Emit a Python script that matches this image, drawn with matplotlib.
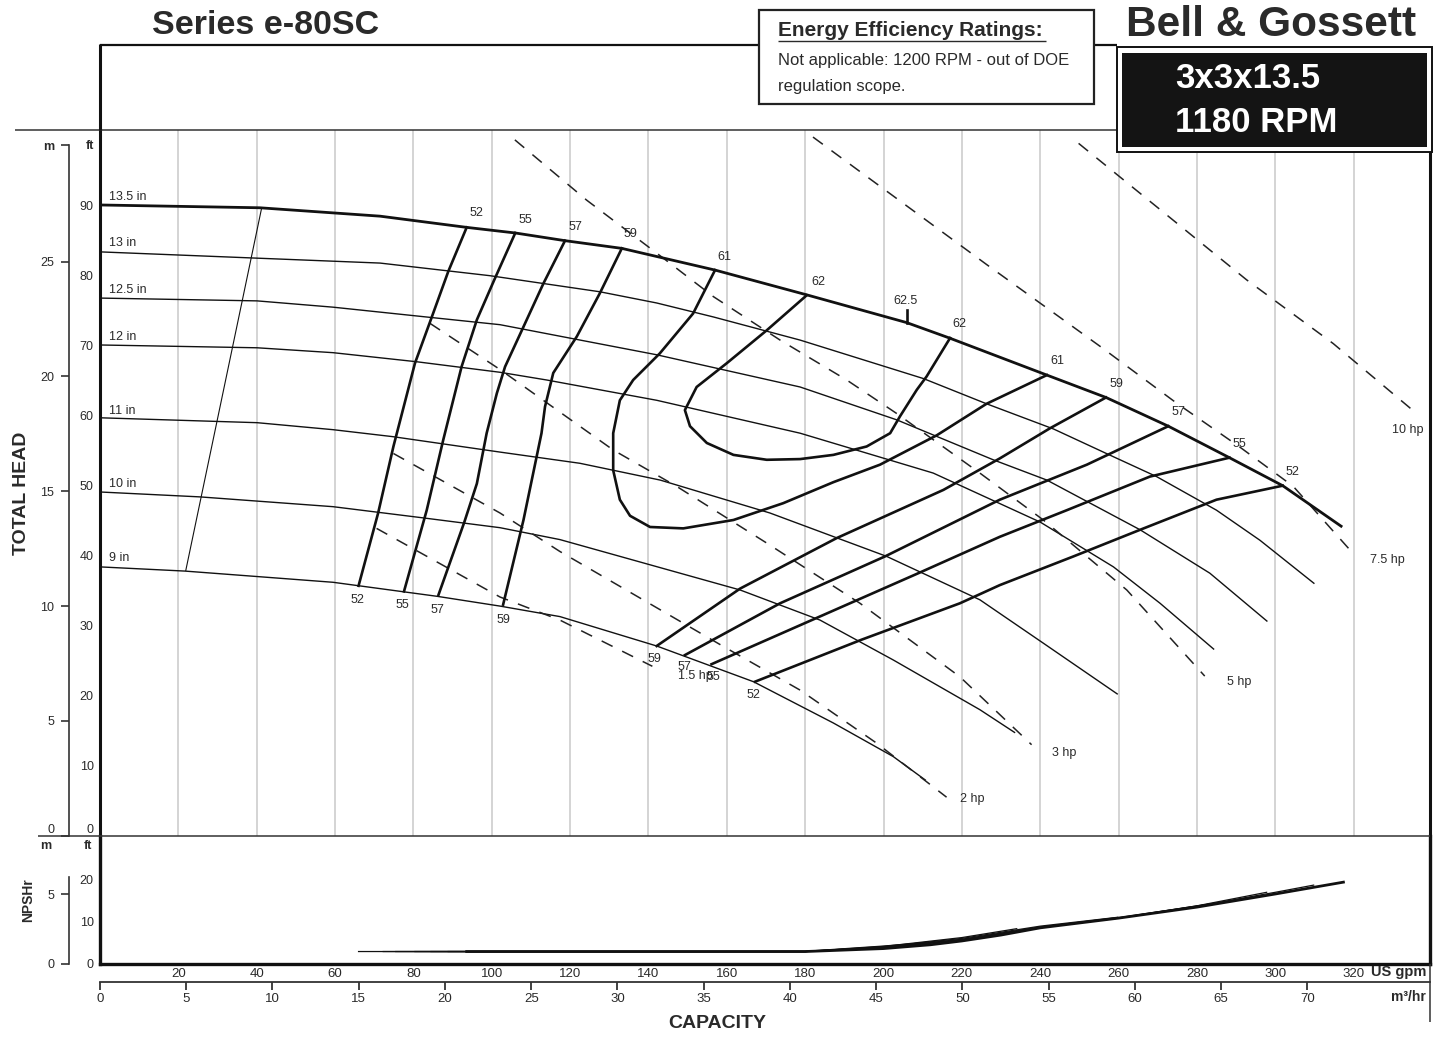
import numpy as np
import matplotlib.pyplot as plt
from matplotlib.lines import Line2D
from matplotlib.patches import Rectangle

plt.rcParams['font.family'] = ['Liberation Sans', 'DejaVu Sans']

# impeller curves: capacity (US gpm) / total head (ft)
q_135 = [0, 40.8, 71.5, 93.6, 106, 118.7, 133.2, 157, 180.8, 205.9, 216.8, 241.7, 256.8, 272.7, 288.3, 301.9, 317.1]
h_135 = [90.1, 89.7, 88.5, 86.9, 86.1, 85.0, 83.9, 80.8, 77.2, 73.3, 71.1, 65.8, 62.6, 58.5, 54.0, 50.0, 44.1]
q_13 = [0, 71.5, 99.5, 127.6, 142.1, 156.6, 178.7, 210.2, 226.3, 243.4, 256.5, 269.7, 285.0, 296.1, 310]
h_13 = [83.4, 81.8, 80.0, 77.7, 76.1, 74.1, 70.8, 65.3, 61.7, 58.1, 54.7, 51.3, 46.5, 42.2, 36.0]
q_125 = [0, 40.1, 59.5, 85, 102.1, 142.1, 178.7, 203.4, 228, 241.7, 265.5, 283.3, 298]
h_125 = [76.8, 76.4, 75.5, 74.0, 73.0, 68.7, 64.1, 59.4, 53.7, 50.8, 43.7, 37.5, 30.6]
q_12 = [0, 40.1, 59.5, 80.9, 102.1, 114, 142.1, 178.7, 212.7, 240, 258.7, 270.6, 284.4]
h_12 = [70.1, 69.7, 69.0, 67.7, 66.2, 65.1, 62.2, 57.5, 51.8, 44.8, 38.4, 33.2, 26.6]
q_11 = [0, 40.1, 59.5, 74.8, 102.1, 122.5, 143, 171, 200.8, 224.6, 240.8, 259.8]
h_11 = [59.7, 59.0, 58.0, 57.0, 54.8, 53.2, 50.8, 46.1, 39.9, 33.7, 27.5, 20.2]
q_10 = [0, 25.5, 59.5, 82.5, 102.1, 117.4, 163.4, 183.8, 202.5, 224.6, 233.6]
h_10 = [49.1, 48.4, 47.0, 45.4, 44.0, 42.3, 35.1, 30.8, 25.1, 18.0, 14.7]
q_9 = [0, 21.7, 59.5, 86, 102.1, 117.4, 142.1, 166.8, 187.2, 202.5, 210.8]
h_9 = [38.4, 37.8, 36.2, 34.2, 32.8, 31.3, 27.1, 22.0, 16.1, 11.3, 7.9]
imp_names = ['13.5 in', '13 in', '12.5 in', '12 in', '11 in', '10 in', '9 in']
imp_label_h = [91.2, 84.7, 78.0, 71.2, 60.7, 50.2, 39.7]

# minimum flow line
minflow_q = [41.2, 21.9]
minflow_h = [89.5, 37.9]

# efficiency curves (%)
e52l_q = [93.6, 88.9, 84.7, 80.4, 74.9, 71.0, 66.0]
e52l_h = [86.9, 80.6, 74.1, 67.5, 55.6, 46.1, 35.7]
e55l_q = [106, 100.8, 96.2, 92.3, 87.6, 83.4, 77.6]
e55l_h = [86.1, 79.6, 73.7, 67.0, 56.5, 46.5, 34.9]
e57l_q = [118.7, 113.2, 108.1, 103.4, 101.3, 98.7, 96.2, 93.0, 86.4]
e57l_h = [85.0, 78.9, 72.7, 67.0, 63.2, 57.5, 50.3, 44.8, 34.4]
e59l_q = [133.2, 127.6, 121.7, 115.7, 113.6, 112.7, 108.1, 102.9]
e59l_h = [83.9, 77.5, 71.3, 66.1, 61.3, 57.5, 45.1, 33.0]
e61_q = [157, 151.4, 142.9, 136.1, 132.7, 131.0, 131.0, 132.7, 135.3, 140.4, 148.9, 161.7,
         174.4, 187.2, 199.1, 213.6, 226.3, 241.7]
e61_h = [80.8, 74.6, 68.9, 65.1, 62.2, 57.5, 52.2, 48.0, 45.7, 44.1, 43.9, 45.1,
         47.5, 50.5, 53.0, 57.2, 61.7, 65.8]
e62_q = [180.4, 170.2, 160, 152.3, 149.3, 150.6, 154.9, 161.7, 170.2, 178.7, 187.2, 195.7,
         201.7, 204.2, 208.5, 211, 217]
e62_h = [77.2, 72.2, 67.5, 64.1, 60.8, 58.5, 56.1, 54.4, 53.7, 53.8, 54.4, 55.6,
         57.5, 59.9, 63.7, 65.6, 71.1]
e59r_q = [142.1, 163.4, 188, 215.3, 229.7, 242.5, 256.8]
e59r_h = [27.1, 35.3, 42.5, 49.4, 53.9, 58.2, 62.6]
e57r_q = [149.3, 173.6, 200.4, 229.7, 251.9, 272.7]
e57r_h = [25.8, 33.2, 39.9, 48.0, 53.0, 58.5]
e55r_q = [156.1, 182.9, 208.9, 229.7, 246.8, 268, 288.3]
e55r_h = [24.5, 31.1, 37.5, 42.7, 46.5, 51.3, 54.0]
e52r_q = [167.2, 194.4, 219.5, 229.7, 248.5, 265.5, 285, 301.9]
e52r_h = [22.0, 28.0, 33.2, 35.8, 39.9, 43.7, 48.0, 50.0]
bep_q = [205.9, 205.9]
bep_h = [73.3, 75.1]

top_eff_txt = ['52', '55', '57', '59', '61', '62', '62.5', '62', '61', '59', '57', '55', '52']
top_eff_q = [96.2, 108.5, 121.3, 135.5, 159.3, 183.4, 205.7, 219.3, 244.4, 259.5, 275.3, 290.8, 304.5]
top_eff_h = [88.9, 87.9, 86.9, 85.9, 82.7, 79.1, 76.4, 73.1, 67.8, 64.5, 60.5, 55.9, 52.0]
low_eff_txt = ['52', '55', '57', '59', '59', '57', '55', '52']
low_eff_q = [65.8, 77.2, 86.1, 102.9, 141.5, 149.1, 156.6, 166.8]
low_eff_h = [33.7, 33.0, 32.3, 30.8, 25.2, 24.1, 22.6, 20.1]

# power lines (hp)
hp15_q = [70.6, 102.1, 117.4, 141.0]
hp15_h = [43.9, 34.1, 30.8, 24.2]
hp2_q = [74.9, 102.1, 117.4, 158.3, 178.7, 198.3, 216.1]
hp2_h = [54.6, 46.1, 40.6, 27.3, 20.8, 13.2, 5.5]
hp3_q = [84.2, 102.1, 131, 147.2, 170.2, 194, 219.5, 237.8]
hp3_h = [73.2, 66.6, 55.1, 49.9, 41.8, 33.2, 22.7, 13.0]
hp5_q = [105.9, 124.2, 143.8, 156.6, 173.6, 190.6, 203.4, 224.6, 240.8, 262.1, 282.0]
hp5_h = [99.4, 90.8, 82.5, 77.0, 70.8, 65.1, 60.3, 51.8, 45.1, 35.1, 22.8]
hp75_q = [182.0, 226.3, 255.3, 274.8, 291.0, 304.6, 319.1]
hp75_h = [99.8, 81.6, 69.9, 61.8, 55.5, 49.9, 40.8]
hp10_q = [249.8, 292.7, 314.8, 336.1]
hp10_h = [98.9, 79.4, 70.3, 60.3]
hp_txt = ['1.5 hp', '2 hp', '3 hp', '5 hp', '7.5 hp', '10 hp']
hp_txt_q = [147.6, 219.5, 242.9, 287.6, 324.2, 329.7]
hp_txt_h = [22.8, 5.3, 11.8, 22.0, 39.4, 58.0]

# NPSHr (ft) per impeller
npsh_q_9 = [66.0, 150, 180, 200, 210.8]
npsh_h_9 = [2.9, 2.9, 2.95, 4.2, 5.0]
npsh_q_10 = [72.3, 180, 200, 220, 234]
npsh_h_10 = [2.9, 2.9, 4.1, 6.2, 8.3]
npsh_q_11 = [75.5, 180, 200, 220, 240, 259.8]
npsh_h_11 = [2.9, 2.9, 4.0, 6.0, 8.9, 11.0]
npsh_q_12 = [80.4, 180, 200, 220, 240, 260, 284.4]
npsh_h_12 = [2.9, 2.9, 3.9, 5.8, 8.7, 10.9, 14.3]
npsh_q_125 = [84.5, 180, 200, 220, 240, 260, 280, 297.8]
npsh_h_125 = [2.9, 2.9, 3.8, 5.7, 8.6, 10.8, 13.7, 16.9]
npsh_q_13 = [88.9, 180, 200, 220, 240, 260, 280, 300, 309.8]
npsh_h_13 = [2.9, 2.9, 3.7, 5.6, 8.6, 10.8, 13.6, 16.9, 18.6]
npsh_q_135 = [93.6, 180, 200, 212, 220, 230, 240, 260, 280, 300, 317.4]
npsh_h_135 = [2.9, 2.9, 3.6, 4.5, 5.4, 6.8, 8.5, 10.8, 13.4, 16.5, 19.3]

gpm_ticks = list(range(20, 340, 20))
ft_grid = list(range(10, 100, 10))
m3h_ticks = list(range(0, 75, 5))

FT_PER_M = 3.28084
M3H_PER_GPM = 0.22712

W, H = 1441, 1038
def fx(x):
    return x / W
def fy(y):
    return 1 - y / H

ink = '#111111'
txt = '#2a2a2a'
gridc = '#cdcdcd'

fig = plt.figure(figsize=(14.41, 10.38), dpi=100)
ax = fig.add_axes([fx(100), fy(835.7), fx(1430) - fx(100), fy(130) - fy(835.7)])
axn = fig.add_axes([fx(100), fy(963.8), fx(1430) - fx(100), fy(835.7) - fy(963.8)])

# ---- head panel
ax.set_xlim(0, 339.5)
ax.set_ylim(0, 100.81)
ax.set_xticks(gpm_ticks, minor=True)
ax.set_yticks(ft_grid, minor=True)
ax.grid(which='minor', color=gridc, lw=1.2, zorder=0)
ax.set_xticks([])
ax.set_yticks(ft_grid + [0, 98.67])
ax.set_yticklabels([str(v) for v in ft_grid] + ['0', 'ft'])
ax.tick_params(axis='both', which='both', length=0)
ax.tick_params(axis='y', pad=4.5, labelsize=9, labelcolor=txt)
for lab in ax.get_yticklabels():
    if lab.get_text() == '0':
        lab.set_va('bottom')
    if lab.get_text() == 'ft':
        lab.set_fontweight('bold')
for s in ['top', 'bottom']:
    ax.spines[s].set_visible(False)
for s in ['left', 'right']:
    ax.spines[s].set_linewidth(2.2)
    ax.spines[s].set_color(ink)

secm = ax.secondary_yaxis(-0.0233, functions=(lambda f: f / FT_PER_M, lambda m: m * FT_PER_M))
secm.set_yticks([0, 5, 10, 15, 20, 25, 30.07])
secm.set_yticklabels(['0', '5', '10', '15', '20', '25', 'm'])
secm.tick_params(length=5.5, width=1.2, pad=5, labelsize=9, labelcolor=txt, color='#333333')
secm.spines['left'].set_bounds(0, 30.07)
secm.spines['left'].set_linewidth(1.2)
secm.spines['left'].set_color('#333333')
for lab in secm.get_yticklabels():
    if lab.get_text() == '0':
        lab.set_va('bottom')
    if lab.get_text() == 'm':
        lab.set_fontweight('bold')

imp_q = [q_135, q_13, q_125, q_12, q_11, q_10, q_9]
imp_h = [h_135, h_13, h_125, h_12, h_11, h_10, h_9]
for i, (q, h) in enumerate(zip(imp_q, imp_h)):
    ax.plot(q, h, color=ink, lw=2.0 if i == 0 else 1.0, zorder=3 if i == 0 else 2,
            solid_capstyle='butt')
    ax.text(2.3, imp_label_h[i], imp_names[i], fontsize=9, color=txt, ha='left', va='center')

ax.plot(minflow_q, minflow_h, color=ink, lw=0.8, zorder=2)

for q, h in [(hp15_q, hp15_h), (hp2_q, hp2_h), (hp3_q, hp3_h), (hp5_q, hp5_h),
             (hp75_q, hp75_h), (hp10_q, hp10_h)]:
    ax.plot(q, h, color='#222222', lw=1.1, dashes=(8, 7), zorder=2)
for t, q, h in zip(hp_txt, hp_txt_q, hp_txt_h):
    ax.text(q, h, t, fontsize=9, color=txt, ha='left', va='center')

for q, h in [(e52l_q, e52l_h), (e55l_q, e55l_h), (e57l_q, e57l_h), (e59l_q, e59l_h),
             (e61_q, e61_h), (e62_q, e62_h), (e59r_q, e59r_h), (e57r_q, e57r_h),
             (e55r_q, e55r_h), (e52r_q, e52r_h), (bep_q, bep_h)]:
    ax.plot(q, h, color=ink, lw=1.9, zorder=3)
for t, q, h in zip(top_eff_txt + low_eff_txt, top_eff_q + low_eff_q, top_eff_h + low_eff_h):
    ax.text(q, h, t, fontsize=9, color=txt, ha='center', va='center', zorder=4)

# ---- NPSH panel
axn.set_xlim(0, 339.5)
axn.set_ylim(0, 30.28)
axn.set_xticks(gpm_ticks, minor=True)
axn.set_yticks([10, 20], minor=True)
axn.grid(which='minor', color=gridc, lw=1.2, zorder=0)
axn.set_xticks(gpm_ticks)
axn.set_xticklabels([str(v) for v in gpm_ticks])
axn.set_yticks([0, 10, 20])
axn.set_yticklabels(['0', '10', '20'])
axn.tick_params(axis='both', which='both', length=0)
axn.tick_params(axis='x', pad=3, labelsize=9.5, labelcolor=txt)
axn.tick_params(axis='y', pad=4.5, labelsize=9, labelcolor=txt)
axn.spines['top'].set_visible(False)
for s in ['left', 'right', 'bottom']:
    axn.spines[s].set_linewidth(2.4)
    axn.spines[s].set_color(ink)

secn = axn.secondary_yaxis(-0.0233, functions=(lambda f: f / FT_PER_M, lambda m: m * FT_PER_M))
secn.set_yticks([0, 5])
secn.set_yticklabels(['0', '5'])
secn.tick_params(length=5.5, width=1.2, pad=5, labelsize=9, labelcolor=txt, color='#333333')
secn.spines['left'].set_bounds(0, 6.25)
secn.spines['left'].set_linewidth(1.2)
secn.spines['left'].set_color('#333333')
axn.text(-0.009, 27.8, 'ft', transform=axn.get_yaxis_transform(), fontsize=9, fontweight='bold',
         color=txt, ha='center', va='center')
axn.text(-0.0406, 27.8, 'm', transform=axn.get_yaxis_transform(), fontsize=9, fontweight='bold',
         color=txt, ha='center', va='center')

for q, h in [(npsh_q_9, npsh_h_9), (npsh_q_10, npsh_h_10), (npsh_q_11, npsh_h_11),
             (npsh_q_12, npsh_h_12), (npsh_q_125, npsh_h_125), (npsh_q_13, npsh_h_13)]:
    axn.plot(q, h, color=ink, lw=0.9, zorder=2)
axn.plot(npsh_q_135, npsh_h_135, color=ink, lw=2.0, zorder=3)

secx = axn.secondary_xaxis(-0.1405, functions=(lambda q: q * M3H_PER_GPM, lambda m: m / M3H_PER_GPM))
secx.set_xticks(m3h_ticks)
secx.set_xticklabels([str(v) for v in m3h_ticks])
secx.tick_params(direction='out', length=6, width=1.3, pad=2, labelsize=9.5, labelcolor=txt,
                 color='#333333')
secx.spines['bottom'].set_linewidth(1.3)
secx.spines['bottom'].set_color('#333333')

# ---- axis titles
fig.text(fx(22), fy(493), 'TOTAL HEAD', rotation=90, fontsize=14, fontweight='bold',
         color=txt, ha='center', va='center')
fig.text(fx(28), fy(900), 'NPSHr', rotation=90, fontsize=10, fontweight='bold',
         color=txt, ha='center', va='center')
fig.text(fx(717), fy(1023), 'CAPACITY', fontsize=14, fontweight='bold', color=txt,
         ha='center', va='center')
fig.text(fx(1426), fy(972), 'US gpm', fontsize=10.5, fontweight='bold', color=txt,
         ha='right', va='center')
fig.text(fx(1426), fy(997), 'm³/hr', fontsize=10, fontweight='bold', color=txt,
         ha='right', va='center')

# ---- frame lines outside the axes
def fline(x0, y0, x1, y1, lw, color='#333333', z=1):
    fig.add_artist(Line2D([fx(x0), fx(x1)], [fy(y0), fy(y1)], lw=lw, color=color, zorder=z,
                          solid_capstyle='butt'))

fline(15, 130, 1430, 130, 1.1)
fline(38, 835.7, 1430, 835.7, 1.1)
fline(100, 45, 1117, 45, 1.6, ink)
fline(100, 44, 100, 130, 2.2, ink)
fline(1430, 963.8, 1430, 1022, 1.1)

# ---- header
fig.text(fx(152), fy(25), 'Series e-80SC', fontsize=24.5, fontweight='bold', color=txt,
         ha='left', va='center')
fig.text(fx(1126), fy(25), 'Bell & Gossett', fontsize=30.5, fontweight='bold', color=txt,
         ha='left', va='center')

fig.add_artist(Rectangle((fx(759), fy(104)), fx(1094) - fx(759), fy(10) - fy(104),
                         facecolor='white', edgecolor='#222222', lw=1.6, zorder=5))
fig.text(fx(778), fy(30), 'Energy Efficiency Ratings:', fontsize=15,
         fontweight='bold', color=txt, ha='left', va='center', zorder=6)
fline(778, 41, 1046, 41, 1.0, txt, 6)
fig.text(fx(778), fy(60), 'Not applicable: 1200 RPM - out of DOE',
         fontsize=12, color=txt, ha='left', va='center', zorder=6)
fig.text(fx(778), fy(86), 'regulation scope.', fontsize=12, color=txt,
         ha='left', va='center', zorder=6)

fig.add_artist(Rectangle((fx(1117), fy(152)), fx(1432) - fx(1117), fy(47) - fy(152),
                         facecolor='white', edgecolor=ink, lw=1.4, zorder=5))
fig.add_artist(Rectangle((fx(1122), fy(147)), fx(1427) - fx(1122), fy(53) - fy(147),
                         facecolor='#141414', edgecolor='none', zorder=6))
fig.text(fx(1175), fy(79), '3x3x13.5', fontsize=25, fontweight='bold', color='white',
         ha='left', va='center', zorder=7)
fig.text(fx(1175), fy(122), '1180 RPM', fontsize=25, fontweight='bold', color='white',
         ha='left', va='center', zorder=7)

fig.savefig('out.png', dpi=100)
